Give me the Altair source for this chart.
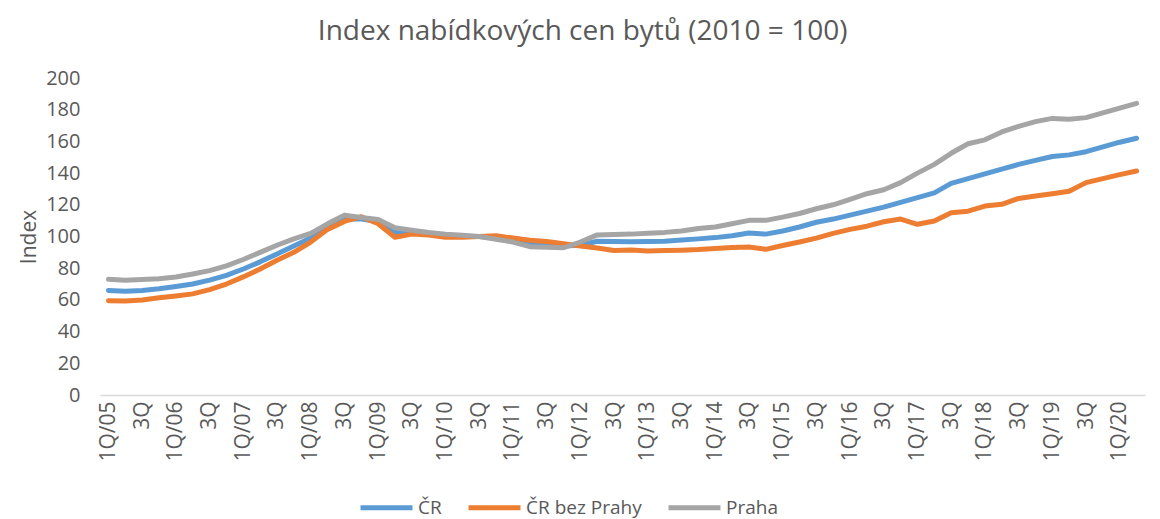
import altair as alt
import pandas as pd

quarters = [
    "1Q/05", "2Q/05", "3Q/05", "4Q/05", "1Q/06", "2Q/06", "3Q/06", "4Q/06",
    "1Q/07", "2Q/07", "3Q/07", "4Q/07", "1Q/08", "2Q/08", "3Q/08", "4Q/08",
    "1Q/09", "2Q/09", "3Q/09", "4Q/09", "1Q/10", "2Q/10", "3Q/10", "4Q/10",
    "1Q/11", "2Q/11", "3Q/11", "4Q/11", "1Q/12", "2Q/12", "3Q/12", "4Q/12",
    "1Q/13", "2Q/13", "3Q/13", "4Q/13", "1Q/14", "2Q/14", "3Q/14", "4Q/14",
    "1Q/15", "2Q/15", "3Q/15", "4Q/15", "1Q/16", "2Q/16", "3Q/16", "4Q/16",
    "1Q/17", "2Q/17", "3Q/17", "4Q/17", "1Q/18", "2Q/18", "3Q/18", "4Q/18",
    "1Q/19", "2Q/19", "3Q/19", "4Q/19", "1Q/20", "2Q/20",
]

cr = [
    66, 65.5, 66, 67, 68.5, 70, 72.5, 75.5, 79.5, 84,
    89, 94, 99, 105, 111, 111, 109.5, 102.5, 102.5, 101.5,
    100.5, 100, 100, 99, 98, 96, 95, 94, 94.5, 97,
    96.8, 96.7, 96.8, 97, 97.8, 98.5, 99.3, 100.5, 102.2, 101.5,
    103.5, 106, 109, 111, 113.5, 116, 118.5, 121.5, 124.5, 127.5,
    133.5, 136.5, 139.5, 142.5, 145.5, 148, 150.5, 151.5, 153.5, 156.5,
    159.5, 162,
]

cr_bez_prahy = [
    59.5, 59.3, 60, 61.3, 62.5, 63.8, 66.5, 70, 74.5, 79.5,
    85, 90, 96.5, 104.5, 109.5, 112.5, 108, 99.5, 101.5, 101,
    99.5, 99.5, 100, 100.5, 99, 97.6, 96.8, 95.5, 94, 92.8,
    91.2, 91.5, 90.8, 91.2, 91.4, 91.8, 92.5, 93, 93.4, 91.9,
    94.3, 96.5, 99, 102, 104.5, 106.5, 109.3, 111, 107.7, 109.8,
    115, 116, 119.2, 120.3, 124, 125.5, 127, 128.5, 134, 136.5,
    139, 141.3,
]

praha = [
    73, 72.4, 72.8, 73.3, 74.5, 76.3, 78.5, 81.5, 85.5, 90,
    94.5, 98.5, 102, 108, 113.5, 112, 110.8, 105.5, 104, 102.5,
    101.5, 100.8, 100, 98.3, 96.5, 93.6, 93.2, 92.9, 96.5, 101,
    101.3, 101.5, 102, 102.6, 103.5, 105, 106, 108, 110.2, 110.2,
    112.2, 114.5, 117.5, 120, 123.5, 127, 129.5, 134, 140, 145.5,
    152.5, 158.5, 161, 166, 169.5, 172.5, 174.5, 174, 175, 178,
    181, 184,
]

series_names = ["ČR", "ČR bez Prahy", "Praha"]
series_colors = ["#5B9BD5", "#ED7D31", "#A5A5A5"]

rows = []
for k, (name, vals) in enumerate(zip(series_names, [cr, cr_bez_prahy, praha])):
    for q, v in zip(quarters, vals):
        rows.append({"q": q, "series": name, "value": v, "order": k})
df = pd.DataFrame(rows)

FONT = "Open Sans"
GREY = "#595959"

label_expr = ("substring(datum.value, 0, 2) == '1Q' ? datum.value : "
              "(substring(datum.value, 0, 2) == '3Q' ? '3Q' : '')")

chart = alt.Chart(df).mark_line(strokeWidth=5, strokeCap="round", strokeJoin="round").encode(
    x=alt.X("q:N", sort=quarters, title=None,
            scale=alt.Scale(type="point", padding=0.5),
            axis=alt.Axis(labelAngle=-90, labelExpr=label_expr, labelFontSize=21,
                          labelColor=GREY, labelFont=FONT, ticks=False,
                          domainColor="#D9D9D9", domainWidth=1.5, labelPadding=6,
                          labelOverlap=False, labelBaseline="middle", labelAlign="right")),
    y=alt.Y("value:Q", title="Index",
            scale=alt.Scale(domain=[0, 200], nice=False),
            axis=alt.Axis(values=list(range(0, 201, 20)), grid=False, domain=False, ticks=False,
                          labelFontSize=20, labelColor=GREY, labelFont=FONT, labelPadding=20,
                          titleFontSize=21, titleColor=GREY, titleFont=FONT,
                          titleFontWeight="normal", titlePadding=6)),
    color=alt.Color("series:N", sort=series_names,
                    scale=alt.Scale(domain=series_names, range=series_colors),
                    legend=alt.Legend(title=None, orient="none", direction="horizontal",
                                      legendX=258, legendY=401,
                                      symbolType="stroke", symbolSize=2700, symbolStrokeWidth=5,
                                      labelFontSize=19, labelColor=GREY, labelFont=FONT,
                                      labelOffset=3, columnPadding=16, labelLimit=300)),
    order=alt.Order("order:Q"),
    detail="series:N",
).properties(
    width=1045,
    height=317,
    title=alt.Title("Index nabídkových cen bytů (2010 = 100)", fontSize=28, font=FONT,
                    color=GREY, fontWeight="normal", anchor="middle", frame="bounds",
                    offset=22),
    padding={"left": 10, "top": 10, "right": 0, "bottom": 0},
).configure_view(stroke=None)

chart.save("out.html", embed_options={"renderer": "svg", "actions": False})
